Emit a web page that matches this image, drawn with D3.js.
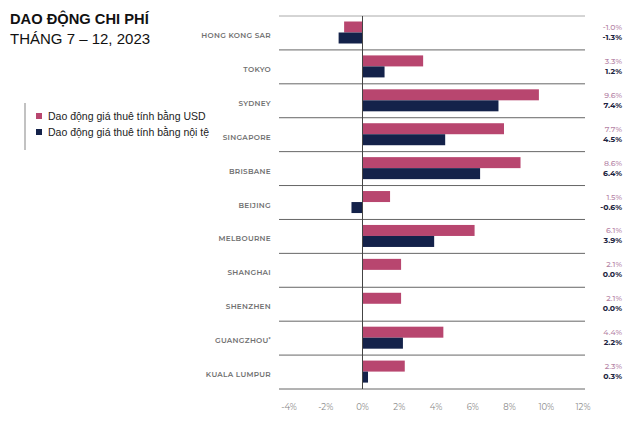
<!DOCTYPE html>
<html><head><meta charset="utf-8">
<script src="https://cdn.jsdelivr.net/npm/d3@7"></script>
<style>body{margin:0;background:#fff}svg{display:block}</style>
</head><body>
<svg id="c" width="640" height="440"></svg>
<script>
const cities = ["HONG KONG SAR","TOKYO","SYDNEY","SINGAPORE","BRISBANE","BEIJING","MELBOURNE","SHANGHAI","SHENZHEN","GUANGZHOU","KUALA LUMPUR"];
const usdValues = [-1.0,3.3,9.6,7.7,8.6,1.5,6.1,2.1,2.1,4.4,2.3];
const localValues = [-1.3,1.2,7.4,4.5,6.4,-0.6,3.9,0.0,0.0,2.2,0.3];
const xTicks = [-4,-2,0,2,4,6,8,10,12];
const seriesNames = ["Dao động giá thuê tính bằng USD","Dao động giá thuê tính bằng nội tệ"];
const colors = ["#b8466f","#14224a"];
const labelColors = ["#b584a6","#1c2440"];

const svg = d3.select("#c");
const x = d3.scaleLinear().domain([-4,12]).range([289,583]);
const y = d3.scaleBand().domain(cities).range([16,389]);
const font = "Montserrat, 'Open Sans', 'DejaVu Sans', sans-serif";

// title
svg.append("text").attr("x",10).attr("y",24).attr("font-family","Arial, 'Liberation Sans', sans-serif")
  .attr("font-weight","bold").attr("font-size",14.7).attr("fill","#111").text("DAO ĐỘNG CHI PHÍ");
svg.append("text").attr("x",10).attr("y",44).attr("font-family","Arial, 'Liberation Sans', sans-serif")
  .attr("font-size",15).attr("fill","#111").text("THÁNG 7 – 12, 2023");

// legend
svg.append("line").attr("x1",25).attr("x2",25).attr("y1",103).attr("y2",150).attr("stroke","#999").attr("stroke-width",1.2);
seriesNames.forEach((n,i)=>{
  svg.append("rect").attr("x",36).attr("y",113+i*16).attr("width",6).attr("height",6).attr("fill",colors[i]);
  svg.append("text").attr("x",48).attr("y",120+i*16).attr("font-family","Arial, 'Liberation Sans', sans-serif")
    .attr("font-size",10.5).attr("fill","#222").text(n);
});

// row lines
const lineX1 = x(-4)-10, lineX2 = x(12)+2;
svg.append("line").attr("x1",lineX1).attr("x2",lineX2).attr("y1",y.range()[0]).attr("y2",y.range()[0]).attr("stroke","#aaa").attr("stroke-width",1);
cities.forEach(c=>{
  const yy = y(c)+y.bandwidth();
  svg.append("line").attr("x1",lineX1).attr("x2",lineX2).attr("y1",yy).attr("y2",yy).attr("stroke","#666").attr("stroke-width",1);
});

// bars
const bh = 11, off = 5.5;
[usdValues, localValues].forEach((vals,si)=>{
  svg.append("g").selectAll("rect").data(vals).join("rect")
    .attr("x",d=>x(Math.min(0,d))).attr("width",d=>Math.abs(x(d)-x(0)))
    .attr("y",(d,i)=>y(cities[i])+off+si*bh).attr("height",bh).attr("fill",colors[si]);
});

// zero line
svg.append("line").attr("x1",x(0)).attr("x2",x(0)).attr("y1",y.range()[0]).attr("y2",y.range()[1]).attr("stroke","#444").attr("stroke-width",1);

// city labels
const lab = svg.append("g").selectAll("text").data(cities).join("text")
  .attr("x",271).attr("y",d=>y(d)+y.bandwidth()/2+5)
  .attr("text-anchor","end").attr("font-family",font).attr("font-size",7.3).attr("font-weight",600)
  .attr("letter-spacing",0.3).attr("fill","#707070");
lab.each(function(d){
  const t = d3.select(this);
  if(d==="GUANGZHOU"){ t.text(d); t.append("tspan").attr("dy",-2).attr("font-size",5).text("*"); }
  else t.text(d);
});

// value labels
[usdValues, localValues].forEach((vals,si)=>{
  svg.append("g").selectAll("text").data(vals).join("text")
    .attr("x",622).attr("y",(d,i)=>y(cities[i])+14+si*10)
    .attr("text-anchor","end").attr("font-family",font).attr("font-size",7.8).attr("font-weight",si?700:500)
    .attr("fill",labelColors[si]).text(d=>d.toFixed(1)+"%");
});

// x axis ticks
svg.append("g").selectAll("text").data(xTicks).join("text")
  .attr("x",d=>x(d)).attr("y",410).attr("text-anchor","middle").attr("font-family",font)
  .attr("font-size",8.5).attr("fill","#888").text(d=>d+"%");
</script>
</body></html>
